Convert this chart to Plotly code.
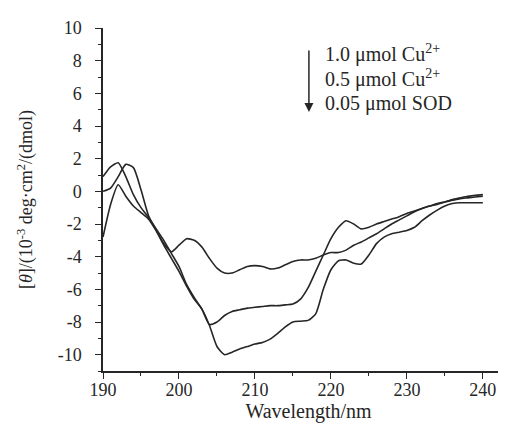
import plotly.graph_objects as go

wavelength = list(range(190, 241))

cu_1_0 = [-2.8, -0.8, 0.4, -0.3, -0.9, -1.3, -1.7, -2.4, -3.2, -3.7,
          -3.3, -2.9, -3.0, -3.4, -4.1, -4.7, -5.0, -5.0, -4.8, -4.6,
          -4.55, -4.6, -4.75, -4.7, -4.5, -4.3, -4.2, -4.2, -4.1, -3.9,
          -3.75, -3.75, -3.6, -3.3, -3.1, -2.85, -2.6, -2.3, -2.0, -1.75,
          -1.5, -1.25, -1.05, -0.9, -0.75, -0.65, -0.55, -0.45, -0.4, -0.35, -0.3]

cu_0_5 = [0.9, 1.5, 1.75, 0.9, -0.2, -1.0, -1.6, -2.3, -3.0, -3.8,
          -4.6, -5.7, -6.5, -7.2, -8.15, -8.0, -7.6, -7.35, -7.25, -7.15,
          -7.1, -7.05, -7.0, -7.0, -6.95, -6.9, -6.6, -5.9, -4.9, -3.9,
          -2.9, -2.2, -1.8, -2.0, -2.3, -2.2, -2.0, -1.85, -1.7, -1.55,
          -1.35, -1.2, -1.05, -0.9, -0.8, -0.65, -0.5, -0.4, -0.3, -0.25, -0.2]

sod_0_05 = [0.0, 0.2, 0.9, 1.65, 1.45, 0.1, -1.5, -2.4, -3.3, -4.1,
            -4.9, -5.8, -6.6, -7.2, -8.2, -9.5, -10.0, -9.85, -9.65, -9.5,
            -9.35, -9.25, -9.05, -8.7, -8.3, -8.0, -7.95, -7.9, -7.5, -6.0,
            -4.8, -4.25, -4.2, -4.4, -4.45, -3.9, -3.2, -2.8, -2.6, -2.5,
            -2.4, -2.2, -1.8, -1.45, -1.15, -0.9, -0.75, -0.7, -0.7, -0.7, -0.7]

series_names = ["1.0 μmol Cu<sup>2+</sup>", "0.5 μmol Cu<sup>2+</sup>", "0.05 μmol SOD"]
series_values = [cu_1_0, cu_0_5, sod_0_05]

x_ticks = [190, 200, 210, 220, 230, 240]
x_tick_labels = ["190", "200", "210", "220", "230", "240"]
y_ticks = [-10, -8, -6, -4, -2, 0, 2, 4, 6, 8, 10]
y_tick_labels = ["-10", "-8", "-6", "-4", "-2", "0", "2", "4", "6", "8", "10"]

FONT = "Liberation Serif"
INK = "#262626"

fig = go.Figure()
for name, vals in zip(series_names, series_values):
    fig.add_trace(go.Scatter(
        x=wavelength, y=vals, mode="lines", name=name,
        line=dict(color=INK, width=1.6, shape="spline", smoothing=0.6),
        showlegend=False,
    ))

# legend-like text block with arrow
text_y = [0.925, 0.852, 0.779]
for name, yy in zip(series_names, text_y):
    fig.add_annotation(
        x=0.535, y=yy, xref="paper", yref="paper", text=name,
        showarrow=False, xanchor="left", yanchor="middle",
        font=dict(family=FONT, size=20, color=INK),
    )
fig.add_annotation(
    x=0.501, y=0.755, xref="paper", yref="paper", text="",
    showarrow=True, ax=0, ay=-63, arrowhead=2, arrowsize=1.2,
    arrowwidth=1.5, arrowcolor=INK,
)

fig.update_layout(
    width=506, height=433,
    margin=dict(l=95, r=0, t=20, b=70),
    paper_bgcolor="white", plot_bgcolor="white",
    font=dict(family=FONT, size=18, color=INK),
    xaxis=dict(
        range=[190, 244.1], tickvals=x_ticks, ticktext=x_tick_labels,
        ticks="outside", ticklen=6,
        tickwidth=1.3, tickcolor=INK, showline=True, linecolor=INK,
        linewidth=1.5, showgrid=False, zeroline=False,
        ticklabelstandoff=-4,
        minor=dict(dtick=5, tick0=190, ticks="outside", ticklen=3, tickcolor=INK, showgrid=False),
        title=dict(text="Wavelength/nm", font=dict(family=FONT, size=20), standoff=0),
        automargin=False,
    ),
    yaxis=dict(
        range=[-11, 10], tickvals=y_ticks, ticktext=y_tick_labels,
        ticks="outside", ticklen=6,
        tickwidth=1.3, tickcolor=INK, showline=True, linecolor=INK,
        linewidth=1.5, showgrid=False, zeroline=False,
        ticklabelstandoff=10,
        minor=dict(dtick=1, tick0=0, ticks="outside", ticklen=3, tickcolor=INK, showgrid=False),
        title=dict(text="[<i>θ</i>]/(10<sup>-3</sup> deg·cm<sup>2</sup>/(dmol)",
                   font=dict(family=FONT, size=18), standoff=20),
        automargin=False,
    ),
)

fig.write_html("out.html")
